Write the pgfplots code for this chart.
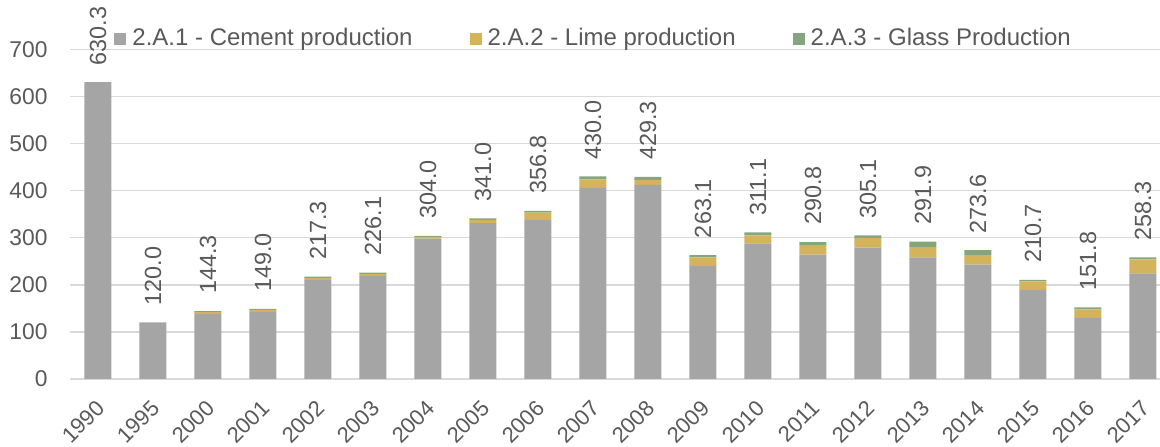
\documentclass[border=0pt]{standalone}
\usepackage{pgfplots}
\pgfplotsset{compat=1.18}
\usepackage{pgfplotstable}
\usepackage{fontspec}
\setmainfont{Liberation Sans}

\definecolor{cementc}{HTML}{A5A5A5}
\definecolor{limec}{HTML}{D4B35D}
\definecolor{glassc}{HTML}{84A67F}
\definecolor{txt}{HTML}{595959}
\definecolor{gridc}{HTML}{D9D9D9}

% Emissions by source category (kt CO2); total = sum of the three parts
\pgfplotstableread{
idx year cement lime glass total
0  1990 630.3 0.0  0.0  630.3
1  1995 120.0 0.0  0.0  120.0
2  2000 138.0 4.0  2.3  144.3
3  2001 142.5 4.5  2.0  149.0
4  2002 210.0 4.5  2.8  217.3
5  2003 219.0 4.0  3.1  226.1
6  2004 298.0 3.5  2.5  304.0
7  2005 331.0 7.0  3.0  341.0
8  2006 338.0 15.0 3.8  356.8
9  2007 406.0 18.0 6.0  430.0
10 2008 412.0 11.0 6.3  429.3
11 2009 240.0 18.0 5.1  263.1
12 2010 288.0 17.0 6.1  311.1
13 2011 264.0 20.0 6.8  290.8
14 2012 279.0 20.0 6.1  305.1
15 2013 258.0 22.0 11.9 291.9
16 2014 243.0 20.0 10.6 273.6
17 2015 189.0 18.0 3.7  210.7
18 2016 130.0 18.0 3.8  151.8
19 2017 224.0 30.0 4.3  258.3
}\emissions

\pgfplotsset{
  frame/.style={
    scale only axis,
    width=545pt, height=164.85pt,
    xmin=-0.509, xmax=19.31,
    ymin=0, ymax=700,
  },
}

\begin{document}
\begin{tikzpicture}
\begin{axis}[
  frame,
  ybar stacked, bar width=13.5pt,
  ytick={0,100,200,300,400,500,600,700},
  xtick={0,1,...,19},
  xticklabels={1990,1995,2000,2001,2002,2003,2004,2005,2006,2007,2008,2009,2010,2011,2012,2013,2014,2015,2016,2017},
  axis line style={draw=none},
  major tick length=0pt,
  ymajorgrids,
  grid style={gridc, line width=0.8pt},
  tick label style={text=txt},
  /pgf/number format/assume math mode=true,
  yticklabel style={font=\fontsize{11.4}{13}\selectfont, xshift=-7.7pt},
  xticklabel style={font=\fontsize{11}{13}\selectfont, rotate=45, anchor=north east,
    inner sep=0pt, xshift=-7.9pt, yshift=-5.8pt},
  legend style={at={(0.0404,1)}, anchor=west, yshift=5.3pt,
    draw=none, fill=none, inner sep=0pt, text=txt,
    font=\fontsize{12}{14}\selectfont,
    nodes={inner xsep=3pt},
    legend columns=3,
    /tikz/every even column/.append style={column sep=25.5pt}},
  legend cell align=left,
  legend image code/.code={\path[#1, draw=none] (0pt,-3.1pt) rectangle (6pt,3.1pt);},
  every axis plot/.append style={draw=none},
]
\addplot[fill=cementc] table[x=idx, y=cement] {\emissions};
\addlegendentry{2.A.1 - Cement production}
\addplot[fill=limec] table[x=idx, y=lime] {\emissions};
\addlegendentry{2.A.2 - Lime production}
\addplot[fill=glassc] table[x=idx, y=glass] {\emissions};
\addlegendentry{2.A.3 - Glass Production}
\end{axis}
% totals written above each stack
\begin{axis}[
  frame, hide axis,
  ybar, bar width=13.5pt,
]
\addplot[draw=none, fill=none,
  point meta=explicit,
  nodes near coords,
  nodes near coords style={text=txt, rotate=90, anchor=west, xshift=5pt,
    font=\fontsize{11.7}{13}\selectfont,
    /pgf/number format/.cd, fixed, fixed zerofill, precision=1, assume math mode=true},
] table[x=idx, y=total, meta=total] {\emissions};
\end{axis}
\pgfresetboundingbox
\path ([xshift=-35pt, yshift=-34pt]current axis.south west)
  rectangle ([yshift=24.65pt]current axis.north east);
\end{tikzpicture}
\end{document}
